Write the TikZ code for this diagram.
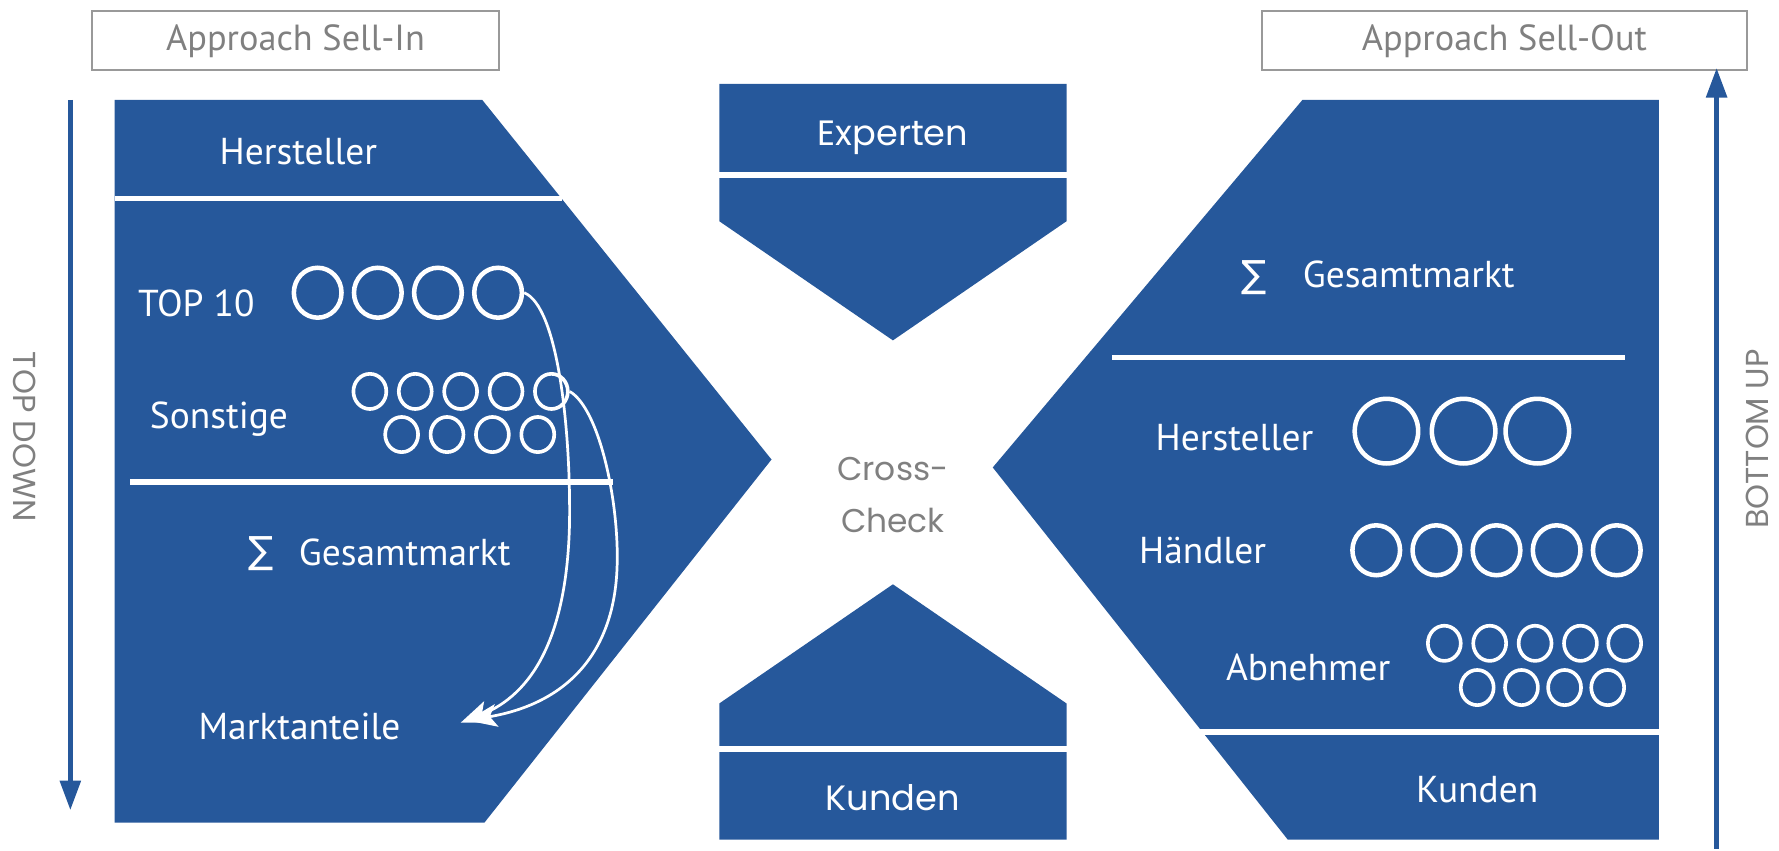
\documentclass[tikz,border=0pt]{standalone}
\usepackage{fontspec}
\setmainfont{PT Sans}
\newfontfamily\geo{Poppins}
\newfontfamily\symf{DejaVu Sans}
\usetikzlibrary{arrows.meta,shapes.geometric}
\definecolor{bl}{RGB}{38,88,155}
\definecolor{gr}{RGB}{128,128,128}
\begin{document}
\begin{tikzpicture}[x=0.5pt,y=-0.5pt,
  blk/.style={fill=bl,draw=none},
  sep/.style={draw=white,line width=2.5pt},
  lbl/.style={text=white,font=\fontsize{16.5}{20}\selectfont,inner sep=0pt,anchor=base},
  glbl/.style={text=white,font=\geo\fontsize{15.5}{20}\selectfont,inner sep=0pt,anchor=base},
  appr/.style={draw=gr!80,line width=0.8pt,text=gr,font=\fontsize{16}{20}\selectfont,minimum width=#1,minimum height=26pt,inner sep=0pt},
  vlbl/.style={text=gr,font=\geo\fontsize{14}{18}\selectfont,inner sep=0pt},
  ringA/.style={ellipse,draw=white,line width=2pt,minimum width=21pt,minimum height=22pt,inner sep=0pt},
  ringB/.style={ellipse,draw=white,line width=1.6pt,minimum width=14.5pt,minimum height=15.5pt,inner sep=0pt},
  ringC/.style={ellipse,draw=white,line width=2pt,minimum width=28pt,minimum height=28.5pt,inner sep=0pt},
  bigarrow/.style={draw=bl,line width=2pt,-{Triangle[length=13pt,width=9pt]}},
  curvearrow/.style={draw=white,line width=1.2pt,-{Stealth[length=13pt,width=10pt,inset=3pt]}}]
\useasboundingbox (0,0) rectangle (1568,750);

% ---------- headers
\node[appr=179.5pt] (hin) at (260.5,36) {Approach Sell-In};
\node[appr=214pt] (hout) at (1326,36) {Approach Sell-Out};

% ---------- side arrows
\coordinate (tdA) at (62,88);
\coordinate (tdB) at (62,714);
\draw[bigarrow] (tdA) -- (tdB);
\node[vlbl,rotate=-90] (td) at (22,385) {TOP DOWN};
\coordinate (buA) at (1513,748);
\coordinate (buB) at (1513,60);
\draw[bigarrow] (buA) -- (buB);
\node[vlbl,rotate=90] (bu) at (1549,387) {BOTTOM UP};

% ---------- left shape
\fill[blk] (101,88) -- (425,88) -- (680,405) -- (427,725) -- (101,725) -- cycle;
\draw[sep] (101,175) -- (495,175);
\draw[sep] (115,425) -- (540,425);
\node[lbl] (lh) at (263,145) {Hersteller};
\node[lbl] (top) at (173,279) {TOP 10};
\node[lbl] (son) at (193,378) {Sonstige};
\node[lbl,anchor=base] (lsig) at (230,497) {\symf ∑};
\node[lbl,anchor=base west] (lges) at (263,498) {Gesamtmarkt};
\node[lbl] (mkt) at (264,652) {Marktanteile};

\foreach \i/\x in {1/280,2/333,3/386,4/439} \node[ringA] (t\i) at (\x,258) {};
\foreach \i/\x in {1/326,2/366,3/406,4/446,5/486} \node[ringB] (s\i) at (\x,345) {};
\foreach \i/\x in {6/354,7/394,8/434,9/474} \node[ringB] (s\i) at (\x,383) {};

\coordinate (tipA) at (406,637);
\coordinate (tipB) at (412,635);
\draw[curvearrow] (t4.east) .. controls (492,270) and (503,380) .. (502,460)
   .. controls (500,560) and (470,612) .. (tipA);
\draw[curvearrow] (s5.east) .. controls (528,360) and (545,440) .. (544,495)
   .. controls (543,575) and (500,620) .. (tipB);

% ---------- centre
\fill[blk] (634,74) -- (940,74) -- (940,195) -- (787,300) -- (634,195) -- cycle;
\draw[sep] (634,154) -- (940,154);
\node[glbl] (exp) at (787,128) {Experten};
\fill[blk] (787,515) -- (940,620) -- (940,740) -- (634,740) -- (634,620) -- cycle;
\draw[sep] (634,660) -- (940,660);
\node[glbl] (kun) at (787,714) {Kunden};
\node[text=gr,font=\geo\fontsize{14.5}{23}\selectfont,align=center,inner sep=0pt] (cc) at (787,436) {Cross-\\Check};

% ---------- right shape
\fill[blk] (1148,88) -- (1462,88) -- (1462,740) -- (1135,740) -- (875,412) -- cycle;
\draw[sep] (980,315) -- (1432,315);
\draw[sep] (1050,645) -- (1462,645);
\node[lbl,anchor=base] (rsig) at (1105,253) {\symf ∑};
\node[lbl,anchor=base west] (rges) at (1148,253) {Gesamtmarkt};
\node[lbl] (rh) at (1088,397) {Hersteller};
\node[lbl] (rha) at (1060,497) {Händler};
\node[lbl] (rab) at (1153,600) {Abnehmer};
\node[lbl] (rku) at (1302,707) {Kunden};

\foreach \i/\x in {1/1222,2/1290,3/1355} \node[ringC] (h\i) at (\x,380) {};
\foreach \i/\x in {1/1213,2/1266,3/1319,4/1372,5/1425} \node[ringA] (d\i) at (\x,485) {};
\foreach \i/\x in {1/1273,2/1313,3/1353,4/1393,5/1432} \node[ringB] (a\i) at (\x,567) {};
\foreach \i/\x in {6/1302,7/1341,8/1379,9/1417} \node[ringB] (a\i) at (\x,606) {};
\end{tikzpicture}
\end{document}
